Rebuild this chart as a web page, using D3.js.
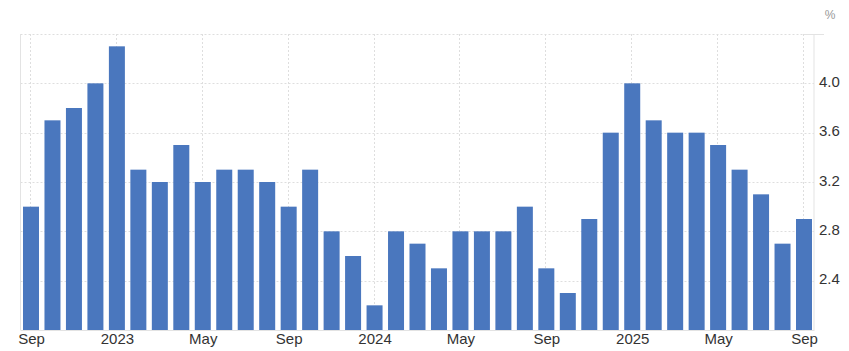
<!DOCTYPE html>
<html>
<head>
<meta charset="utf-8">
<script src="https://cdn.jsdelivr.net/npm/d3@7"></script>
<style>
  body { margin: 0; background: #fff; }
  svg { display: block; font-family: "Liberation Sans", Arial, sans-serif; }
  .grid line { stroke: #dedede; stroke-dasharray: 2,2; }
  .axis text { fill: #333; font-size: 15px; }
</style>
</head>
<body>
<div id="container"></div>
<script>
var w = 849
var h = 351

// monthly values, Sep 2022 .. Sep 2025
var months = ["2022-09","2022-10","2022-11","2022-12",
  "2023-01","2023-02","2023-03","2023-04","2023-05","2023-06","2023-07","2023-08","2023-09","2023-10","2023-11","2023-12",
  "2024-01","2024-02","2024-03","2024-04","2024-05","2024-06","2024-07","2024-08","2024-09","2024-10","2024-11","2024-12",
  "2025-01","2025-02","2025-03","2025-04","2025-05","2025-06","2025-07","2025-08","2025-09"]
var values = [3.0, 3.7, 3.8, 4.0,
  4.3, 3.3, 3.2, 3.5, 3.2, 3.3, 3.3, 3.2, 3.0, 3.3, 2.8, 2.6,
  2.2, 2.8, 2.7, 2.5, 2.8, 2.8, 2.8, 3.0, 2.5, 2.3, 2.9, 3.6,
  4.0, 3.7, 3.6, 3.6, 3.5, 3.3, 3.1, 2.7, 2.9]

var xTicks = ["2022-09","2023-01","2023-05","2023-09","2024-01","2024-05","2024-09","2025-01","2025-05","2025-09"]
var xTickLabels = ["Sep","2023","May","Sep","2024","May","Sep","2025","May","Sep"]
var yTicks = [2.4, 2.8, 3.2, 3.6, 4.0]
var yGrid = [2.4, 2.8, 3.2, 3.6, 4.0, 4.4]

var plotLeft = 20.5, plotRight = 814, plotTop = 34, plotBottom = 330

var svg = d3.select("#container").append("svg")
    .attr("width", w)
    .attr("height", h)

var x = d3.scalePoint().domain(months).range([31, 804])
var y = d3.scaleLinear().domain([2.0, 4.4]).range([plotBottom, plotTop])

// grid
var grid = svg.append("g").attr("class", "grid")
grid.selectAll(".hg")
    .data(yGrid)
    .enter()
    .append("line")
    .attr("x1", plotLeft).attr("x2", plotRight)
    .attr("y1", function (d) { return Math.round(y(d)) + 0.5 })
    .attr("y2", function (d) { return Math.round(y(d)) + 0.5 })
grid.selectAll(".vg")
    .data(xTicks)
    .enter()
    .append("line")
    .attr("x1", function (d) { return Math.round(x(d)) - 0.5 })
    .attr("x2", function (d) { return Math.round(x(d)) - 0.5 })
    .attr("y1", plotTop).attr("y2", plotBottom)

// bars
var bw = 16
svg.append("g").selectAll("rect")
    .data(months)
    .enter()
    .append("rect")
    .attr("x", function (d) { return x(d) - bw / 2 })
    .attr("width", bw)
    .attr("y", function (d, i) { return y(values[i]) })
    .attr("height", function (d, i) { return plotBottom - y(values[i]) })
    .attr("fill", "#4a77be")

// axis frame
svg.append("line")
    .attr("x1", plotLeft).attr("x2", plotLeft).attr("y1", plotTop).attr("y2", plotBottom)
    .attr("stroke", "#e3e3e3")
svg.append("line")
    .attr("x1", plotRight).attr("x2", plotRight).attr("y1", plotTop).attr("y2", plotBottom + 1)
    .attr("stroke", "#e3e3e3")
svg.append("line")
    .attr("x1", plotLeft).attr("x2", plotRight).attr("y1", plotBottom + 0.5).attr("y2", plotBottom + 0.5)
    .attr("stroke", "#e3e3e3")
svg.append("line")
    .attr("x1", plotRight - 10).attr("x2", plotRight + 10).attr("y1", plotTop + 0.5).attr("y2", plotTop + 0.5)
    .attr("stroke", "#e3e3e3")

// x axis
var xAxis = d3.axisBottom(x)
    .tickValues(xTicks)
    .tickSize(0)
    .tickPadding(3)
    .tickFormat(function (d) { return xTickLabels[xTicks.indexOf(d)] })
svg.append("g")
    .attr("class", "axis")
    .attr("transform", "translate(0," + plotBottom + ")")
    .call(xAxis)
    .call(function (g) { g.select(".domain").remove() })

// y axis on the right
var yAxis = d3.axisRight(y)
    .tickValues(yTicks)
    .tickSize(0)
    .tickPadding(5)
    .tickFormat(d3.format(".1f"))
svg.append("g")
    .attr("class", "axis")
    .attr("transform", "translate(" + plotRight + ",0)")
    .call(yAxis)
    .call(function (g) { g.select(".domain").remove() })
    .selectAll("text").attr("dy", "0.22em")

svg.append("text")
    .attr("x", 830)
    .attr("y", 19)
    .attr("text-anchor", "middle")
    .attr("fill", "#999")
    .style("font-size", "12px")
    .text("%")
</script>
</body>
</html>
